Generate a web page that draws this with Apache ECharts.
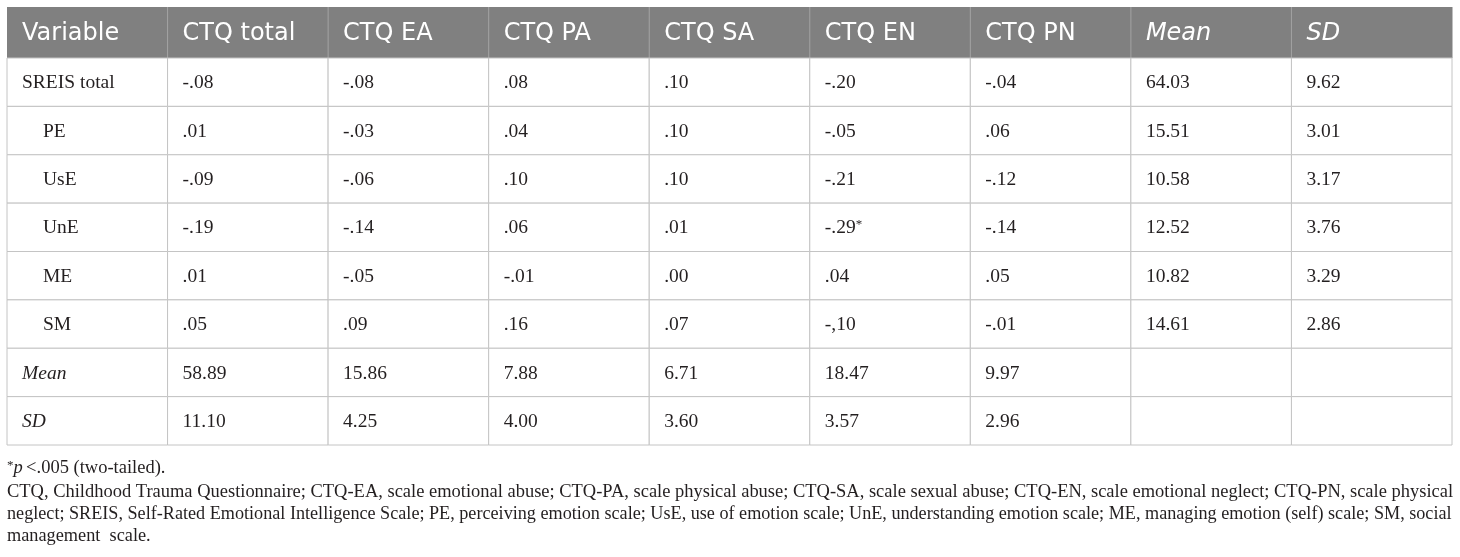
<!DOCTYPE html>
<html>
<head>
<meta charset="utf-8" />
<script src="https://cdn.jsdelivr.net/npm/echarts@6/dist/echarts.min.js"></script>
<title>CTQ x SREIS</title>
<style>
  html, body { margin: 0; padding: 0; background: #fff; }
  #main { width: 1460px; height: 557px; }
</style>
</head>
<body>
<div id="main"></div>
<script type="text/javascript">
// table content
var columns = ['Variable', 'CTQ total', 'CTQ EA', 'CTQ PA', 'CTQ SA', 'CTQ EN', 'CTQ PN', 'Mean', 'SD'];
var rowLabels = ['SREIS total', 'PE', 'UsE', 'UnE', 'ME', 'SM', 'Mean', 'SD'];
var ctqTotal = ['-.08', '.01', '-.09', '-.19', '.01', '.05', '58.89', '11.10'];
var ctqEA    = ['-.08', '-.03', '-.06', '-.14', '-.05', '.09', '15.86', '4.25'];
var ctqPA    = ['.08', '.04', '.10', '.06', '-.01', '.16', '7.88', '4.00'];
var ctqSA    = ['.10', '.10', '.10', '.01', '.00', '.07', '6.71', '3.60'];
var ctqEN    = ['-.20', '-.05', '-.21', '-.29*', '.04', '-,10', '18.47', '3.57'];
var ctqPN    = ['-.04', '.06', '-.12', '-.14', '.05', '-.01', '9.97', '2.96'];
var sreisMean = ['64.03', '15.51', '10.58', '12.52', '10.82', '14.61', '', ''];
var sreisSD   = ['9.62', '3.01', '3.17', '3.76', '3.29', '2.86', '', ''];
var subRows = ['PE', 'UsE', 'UnE', 'ME', 'SM'];
var italicLabels = ['Mean', 'SD'];
var noteLines = [
  'CTQ, Childhood Trauma Questionnaire; CTQ-EA, scale emotional abuse; CTQ-PA, scale physical abuse; CTQ-SA, scale sexual abuse; CTQ-EN, scale emotional neglect; CTQ-PN, scale physical',
  'neglect; SREIS, Self-Rated Emotional Intelligence Scale; PE, perceiving emotion scale; UsE, use of emotion scale; UnE, understanding emotion scale; ME, managing emotion (self) scale; SM, social',
  'management  scale.'
];

var valueCols = [rowLabels, ctqTotal, ctqEA, ctqPA, ctqSA, ctqEN, ctqPN, sreisMean, sreisSD];

var SERIF = '"Liberation Serif", "DejaVu Serif", serif';
var SANS = '"DejaVu Sans", "Open Sans", sans-serif';
var LINE = '#c4c4c4';
var INK = '#231f20';

// build cells [col, row] and their text
var cells = [], cellText = [];
for (var c = 0; c < valueCols.length; c++) {
  for (var r = 0; r < rowLabels.length; r++) {
    cells.push([c, r]);
    cellText.push(valueCols[c][r]);
  }
}
var headCells = columns.map(function (n, i) { return [i, 0]; });

function toRich(t) {
  if (t.indexOf('*') >= 0) {
    return '{n|' + t.replace('*', '') + '}{s|*}';
  }
  return '{n|' + t + '}';
}

var myChart = echarts.init(document.getElementById('main'), null, { renderer: 'canvas' });

var option = {
  animation: false,
  grid: [
    { left: 7, top: 7, width: 1445, height: 51 },
    { left: 7, top: 58, width: 1445, height: 387 }
  ],
  xAxis: [
    { type: 'category', gridIndex: 0, data: columns, show: false },
    { type: 'category', gridIndex: 1, data: columns, show: false }
  ],
  yAxis: [
    { type: 'category', gridIndex: 0, data: ['head'], show: false },
    { type: 'category', gridIndex: 1, data: rowLabels, inverse: true, show: false }
  ],
  series: [
    {
      type: 'custom',
      xAxisIndex: 0,
      yAxisIndex: 0,
      data: headCells,
      renderItem: function (params, api) {
        var p = api.coord([api.value(0), api.value(1)]);
        var s = api.size([1, 1]);
        var x0 = p[0] - s[0] / 2, y0 = p[1] - s[1] / 2;
        var name = columns[params.dataIndex];
        var kids = [
          { type: 'rect', shape: { x: x0, y: y0, width: s[0] + 0.5, height: s[1] }, style: { fill: '#808080' } },
          {
            type: 'text',
            style: {
              text: name, x: x0 + 15, y: p[1] + 1,
              fill: '#fff', fontFamily: SANS, fontSize: 24,
              fontStyle: italicLabels.indexOf(name) >= 0 ? 'italic' : 'normal',
              verticalAlign: 'middle', align: 'left'
            }
          }
        ];
        if (params.dataIndex > 0) {
          kids.push({ type: 'line', shape: { x1: x0, y1: y0, x2: x0, y2: y0 + s[1] }, style: { stroke: '#a3a3a3', lineWidth: 1 } });
        }
        return { type: 'group', children: kids };
      }
    },
    {
      type: 'custom',
      xAxisIndex: 1,
      yAxisIndex: 1,
      data: cells,
      renderItem: function (params, api) {
        var ci = api.value(0), ri = api.value(1);
        var p = api.coord([ci, ri]);
        var s = api.size([1, 1]);
        var x0 = p[0] - s[0] / 2, y0 = p[1] - s[1] / 2;
        var t = cellText[params.dataIndex];
        var indent = 0, italic = false;
        if (ci === 0) {
          if (subRows.indexOf(t) >= 0) indent = 21;
          if (italicLabels.indexOf(t) >= 0) italic = true;
        }
        return {
          type: 'group',
          children: [
            { type: 'rect', shape: { x: x0, y: y0, width: s[0], height: s[1] }, style: { fill: '#fff', stroke: LINE, lineWidth: 1 } },
            {
              type: 'text',
              style: {
                text: toRich(t), x: x0 + 15 + indent, y: p[1] + 1,
                fill: INK, verticalAlign: 'middle', align: 'left',
                rich: {
                  n: { fontFamily: SERIF, fontSize: 19.5, fontStyle: italic ? 'italic' : 'normal', fill: INK },
                  s: { fontFamily: SERIF, fontSize: 13, verticalAlign: 'top', fill: INK }
                }
              }
            }
          ]
        };
      }
    }
  ],
  graphic: [
    {
      type: 'text', left: 7, top: 459,
      style: {
        text: '{s|*}{i|p} {n|<.005 (two-tailed).}',
        rich: {
          s: { fontFamily: SERIF, fontSize: 13, verticalAlign: 'top', fill: INK },
          i: { fontFamily: SERIF, fontSize: 18.5, fontStyle: 'italic', fill: INK },
          n: { fontFamily: SERIF, fontSize: 18.5, fill: INK }
        }
      }
    },
    { type: 'text', left: 7, top: 483, style: { text: noteLines[0], fontFamily: SERIF, fontSize: 18.48, fill: INK } },
    { type: 'text', left: 7, top: 505, style: { text: noteLines[1], fontFamily: SERIF, fontSize: 18.17, fill: INK } },
    { type: 'text', left: 7, top: 527, style: { text: noteLines[2], fontFamily: SERIF, fontSize: 18.3, fill: INK } }
  ]
};
myChart.setOption(option);
</script>
</body>
</html>
